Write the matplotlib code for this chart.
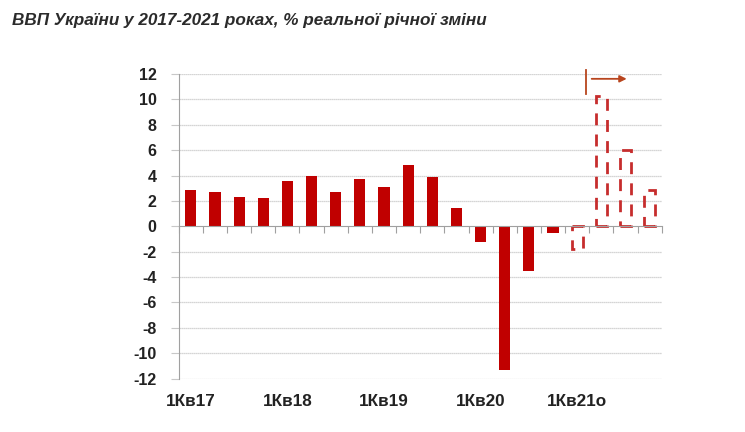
import numpy as np
import matplotlib
matplotlib.use("Agg")
import matplotlib.pyplot as plt
import matplotlib.transforms as mtransforms

# real GDP, % y/y by quarter
quarters = ["1Кв17", "2Кв17", "3Кв17", "4Кв17",
            "1Кв18", "2Кв18", "3Кв18", "4Кв18",
            "1Кв19", "2Кв19", "3Кв19", "4Кв19",
            "1Кв20", "2Кв20", "3Кв20", "4Кв20",
            "1Кв21о", "2Кв21о", "3Кв21о", "4Кв21о"]
actual = [2.83, 2.73, 2.33, 2.23, 3.58, 3.97, 2.73, 3.76,
          3.13, 4.85, 3.87, 1.40, -1.25, -11.3, -3.55, -0.53]
forecast = [-1.8, 10.3, 6.0, 2.85]
shown_labels = ["1Кв17", "1Кв18", "1Кв19", "1Кв20", "1Кв21о"]
yticks = list(range(-12, 13, 2))

title = "ВВП України у 2017-2021 роках, % реальної річної зміни"

plt.rcParams['font.family'] = ['Liberation Sans', 'DejaVu Sans']

fig = plt.figure(figsize=(7.45, 4.32), dpi=100)
ax = fig.add_axes([0.2399, 0.1238, 0.6483, 0.7049])

x_act = np.arange(len(actual))
x_fc = np.arange(len(actual), len(quarters))

ax.bar(x_act, actual, width=0.46, color="#c00000", zorder=3)
ax.bar(x_fc, forecast, width=0.47, facecolor="none", edgecolor="#c62d2d",
       linewidth=2.0, linestyle=(0, (4.3, 3.3)), zorder=3)

ax.set_xlim(-0.5, len(quarters) - 0.5)
ax.set_ylim(-12, 12)

# grid
for y in yticks:
    if y != 0:
        ax.axhline(y, color="#c8c8c8", lw=0.9, ls=(0, (1, 0.6)), zorder=1)

# spines
for s in ["top", "right"]:
    ax.spines[s].set_visible(False)
ax.spines["left"].set_color("#a0a0a0")
ax.spines["bottom"].set_position(("data", 0))
ax.spines["bottom"].set_color("#a0a0a0")
ax.spines["bottom"].set_zorder(4)

ax.set_yticks(yticks)
ax.set_yticklabels([str(t) for t in yticks], fontsize=11.5, fontweight="bold", color="#222222")
ax.tick_params(axis="y", direction="out", length=6, color="#c8c8c8", width=0.8, pad=10)

ax.set_xticks(np.arange(len(quarters) + 1) - 0.5)
ax.set_xticklabels([])
ax.tick_params(axis="x", direction="out", length=5, color="#a0a0a0", width=0.8)

trans = mtransforms.blended_transform_factory(ax.transData, ax.transAxes)
for lab in shown_labels:
    i = quarters.index(lab)
    ax.text(i, -0.074, lab, transform=trans, ha="center", va="center",
            fontsize=12.3, fontweight="bold", color="#222222")

# forecast marker
ax.plot([16.35, 16.35], [10.43, 12.33], color="#b8451e", lw=1.3, clip_on=False, zorder=5)
ax.annotate("", xy=(18.05, 11.62), xytext=(16.6, 11.62),
            arrowprops=dict(arrowstyle="-|>", color="#b8451e", lw=1.3,
                            mutation_scale=10, shrinkA=0, shrinkB=0),
            annotation_clip=False, zorder=5)

fig.text(12 / 745, 1 - 20 / 432, title, ha="left", va="center",
         fontsize=12.3, fontweight="bold", fontstyle="italic", color="#2b2b2b")

fig.savefig("out.png", dpi=100)
